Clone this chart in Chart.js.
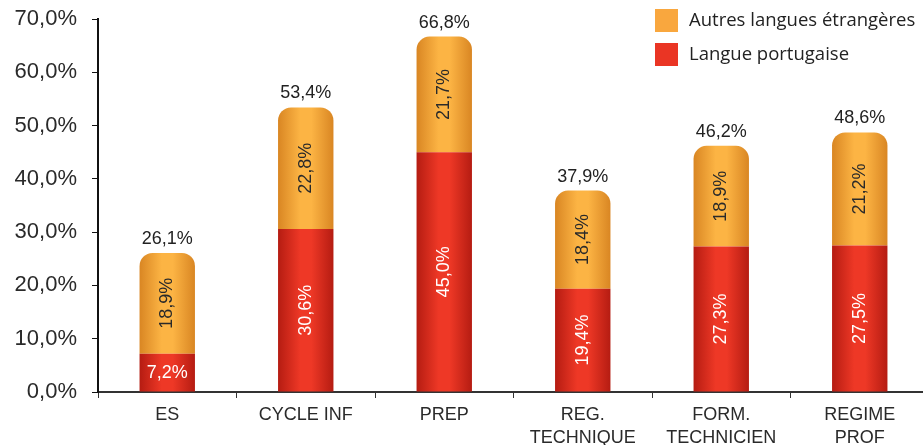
<!DOCTYPE html>
<html>
<head>
<meta charset="utf-8">
<script src="https://cdn.jsdelivr.net/npm/chart.js@4/dist/chart.umd.min.js"></script>
<style>
  html, body { margin: 0; padding: 0; background: #fff; overflow: hidden; }
  #wrap { width: 932px; height: 445px; }
</style>
</head>
<body>
<div id="wrap"><canvas id="chart" width="932" height="445"></canvas></div>
<script>
    // données
    const categories = [['ES'], ['CYCLE INF'], ['PREP'], ['REG.', 'TECHNIQUE'], ['FORM.', 'TECHNICIEN'], ['REGIME', 'PROF']];
    const portugais = [7.2, 30.6, 45.0, 19.4, 27.3, 27.5];
    const autres = [18.9, 22.8, 21.7, 18.4, 18.9, 21.2];
    const totaux = [26.1, 53.4, 66.8, 37.9, 46.2, 48.6];
    const yTicks = [0, 10, 20, 30, 40, 50, 60, 70];

    const fmt = v => v.toFixed(1).replace('.', ',') + '%';

    // dégradé horizontal pour l'effet cylindre
    function barGradient(context, dark, light) {
        const chart = context.chart;
        const x = chart.scales && chart.scales.x;
        if (!x || context.dataIndex === undefined) return light;
        const cx = x.getPixelForValue(context.dataIndex);
        const half = x.width / categories.length * 0.4 / 2;
        if (!isFinite(cx) || !isFinite(half) || half <= 0) return light;
        const g = chart.ctx.createLinearGradient(cx - half, 0, cx + half, 0);
        g.addColorStop(0, dark);
        g.addColorStop(0.4, light);
        g.addColorStop(0.6, light);
        g.addColorStop(1, dark);
        return g;
    }

    const labelsPlugin = {
        id: 'labels',
        afterDatasetsDraw(chart) {
            const c = chart.ctx;
            c.save();
            c.font = '18px "Liberation Sans", Arial, sans-serif';
            c.textAlign = 'center';
            c.textBaseline = 'middle';
            chart.data.datasets.forEach((ds, di) => {
                const meta = chart.getDatasetMeta(di);
                meta.data.forEach((bar, i) => {
                    const v = ds.data[i];
                    const mid = (bar.y + bar.base) / 2;
                    c.fillStyle = di === 0 ? '#ffffff' : '#2a2a2a';
                    if (v < 10) {
                        c.fillText(fmt(v), bar.x, mid);
                    } else {
                        c.save();
                        c.translate(bar.x, mid);
                        c.rotate(-Math.PI / 2);
                        c.fillText(fmt(v), 0, 0);
                        c.restore();
                    }
                });
            });
            // totaux au-dessus des barres
            const top = chart.getDatasetMeta(1);
            c.fillStyle = '#222';
            top.data.forEach((bar, i) => {
                c.fillText(fmt(totaux[i]), bar.x, bar.y - 14);
            });
            // légende
            const items = [[chart.data.datasets[1].label, '#f9a73e'], [chart.data.datasets[0].label, '#ea3524']];
            c.font = '18.5px "Open Sans", "Noto Sans", sans-serif';
            c.textAlign = 'left';
            items.forEach((it, k) => {
                const y = 9 + k * 34;
                c.fillStyle = it[1];
                c.fillRect(655, y, 23, 23);
                c.fillStyle = '#222';
                c.fillText(it[0], 689, y + 12);
            });
            c.restore();
        }
    };

    const ctx = document.getElementById('chart').getContext('2d');
    const chart = new Chart(ctx, {
        type: 'bar',
        data: {
            labels: categories,
            datasets: [{
                label: 'Langue portugaise',
                data: portugais,
                backgroundColor: c => barGradient(c, '#b51c12', '#ee3826'),
                borderWidth: 0,
                barPercentage: 0.4,
                categoryPercentage: 1
            }, {
                label: 'Autres langues étrangères',
                data: autres,
                backgroundColor: c => barGradient(c, '#d98623', '#fcb444'),
                borderRadius: { topLeft: 13, topRight: 13, bottomLeft: 0, bottomRight: 0 },
                borderSkipped: 'start',
                borderWidth: 0,
                barPercentage: 0.4,
                categoryPercentage: 1
            }]
        },
        options: {
            responsive: false,
            animation: false,
            layout: { padding: { top: 19, right: 3, left: 0, bottom: 0 } },
            plugins: {
                legend: { display: false },
                tooltip: { enabled: false }
            },
            scales: {
                x: {
                    stacked: true,
                    grid: { display: true, drawOnChartArea: false, offset: true, tickLength: 6, color: '#333', tickColor: '#333' },
                    border: { color: '#333', width: 2 },
                    ticks: {
                        color: '#2a2a2a',
                        padding: 6,
                        maxRotation: 0,
                        minRotation: 0,
                        font: { family: '"Liberation Sans", Arial, sans-serif', size: 18, lineHeight: 1.25 }
                    },
                    afterFit(scale) { scale.height = 53; }
                },
                y: {
                    stacked: true,
                    min: 0,
                    max: 70,
                    afterBuildTicks(scale) { scale.ticks = yTicks.map(v => ({ value: v })); },
                    grid: { display: true, drawOnChartArea: false, tickLength: 6, color: '#111', tickColor: '#111' },
                    border: { color: '#111', width: 2 },
                    ticks: {
                        color: '#2a2a2a',
                        padding: 15,
                        callback: v => fmt(v),
                        font: { family: '"Liberation Sans", Arial, sans-serif', size: 22 }
                    },
                    afterFit(scale) {
                        scale.width = 98;
                        scale.paddingTop = 0;
                        scale.paddingBottom = 0;
                    }
                }
            }
        },
        plugins: [labelsPlugin]
    });
</script>
</body>
</html>
